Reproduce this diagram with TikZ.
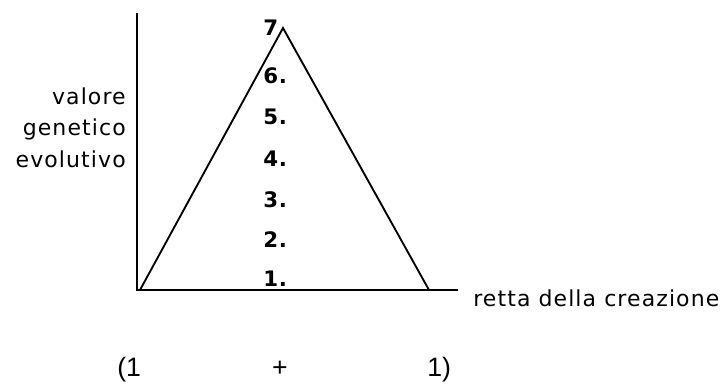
\documentclass[tikz,border=0pt]{standalone}
\usepackage{fontspec}
\setmainfont{Liberation Sans}
\newfontfamily\genevafont[LetterSpace=5]{DejaVu Sans}
\newfontfamily\levelfont[LetterSpace=4]{DejaVu Sans}

\begin{document}
\begin{tikzpicture}[x=0.75pt,y=-0.75pt,
  axisline/.style={line width=1.5pt},
  sideline/.style={line width=1.4pt,line join=miter},
  lbl/.style={font=\genevafont\fontsize{16.5}{23}\selectfont,inner sep=0pt},
  lvl/.style={font=\levelfont\bfseries\fontsize{16}{16}\selectfont,inner sep=0pt,anchor=base west},
  sum/.style={font=\fontsize{20}{20}\selectfont,inner sep=0pt}]
\useasboundingbox (0,0) rectangle (728,383);
% axes
\coordinate (top) at (137,13);
\coordinate (origin) at (137,290);
\coordinate (axisend) at (458,290);
\draw[axisline] (top)--(origin)--(axisend);
% triangle
\coordinate (leftfoot) at (140,290);
\coordinate (apex) at (283,28);
\coordinate (rightfoot) at (429,290);
\draw[sideline] (leftfoot)--(apex)--(rightfoot);
% levels
\foreach \n/\y in {1/286,2/247,3/207,4/166,5/124,6/83}{
  \node[lvl] (level\n) at (263,\y) {\n.};
}
\node[lvl] (level7) at (263,35) {7};
% labels
\foreach \w/\y [count=\i] in {valore/104,genetico/135,evolutivo/167}{
  \node[lbl,anchor=base east] (ylabel\i) at (126,\y) {\w};
}
\node[lbl,anchor=base west] (xlabel) at (473,306) {retta della creazione};
% bottom row
\node[sum,anchor=base west] (open) at (117,376) {(1};
\node[sum,anchor=base] (plus) at (280,376) {+};
\node[sum,anchor=base west] (close) at (427,376) {1)};
\end{tikzpicture}
\end{document}
